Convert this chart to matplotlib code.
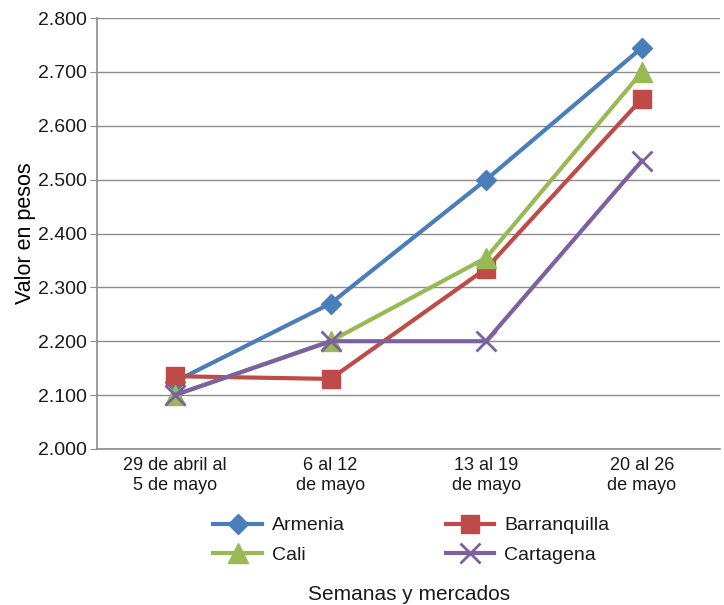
import matplotlib.pyplot as plt
from matplotlib.ticker import FuncFormatter

plt.rcParams['font.family'] = ['Liberation Sans', 'DejaVu Sans']
plt.rcParams['text.color'] = "#1a1a1a"
plt.rcParams['xtick.labelcolor'] = "#1a1a1a"
plt.rcParams['ytick.labelcolor'] = "#1a1a1a"

semanas = ["29 de abril al\n5 de mayo", "6 al 12\nde mayo",
           "13 al 19\nde mayo", "20 al 26\nde mayo"]
armenia = [2125, 2270, 2500, 2745]
barranquilla = [2135, 2130, 2335, 2650]
cali = [2100, 2200, 2355, 2700]
cartagena = [2100, 2200, 2200, 2535]

fig = plt.figure(figsize=(7.24, 6.05), dpi=100)
ax = fig.add_axes([0.134, 0.258, 0.86, 0.712])

x = range(len(semanas))
l1, = ax.plot(x, armenia, color="#4A7EBB", lw=3, marker="D", ms=10, label="Armenia", zorder=3)
l2, = ax.plot(x, barranquilla, color="#BE4B48", lw=3, marker="s", ms=13, label="Barranquilla", zorder=3)
l3, = ax.plot(x, cali, color="#98B954", lw=3, marker="^", ms=14, label="Cali", zorder=3)
l4, = ax.plot(x, cartagena, color="#7D60A0", lw=3, marker="x", ms=14, mew=2, label="Cartagena", zorder=4)

ax.set_xlim(-0.5, 3.5)
ax.set_ylim(2000, 2800)
ax.set_yticks(range(2000, 2801, 100))
ax.yaxis.set_major_formatter(FuncFormatter(lambda v, p: f"{v:,.0f}".replace(",", ".")))
ax.set_xticks(list(x))
ax.set_xticklabels(semanas)
ax.grid(axis="y", color="#8c8c8c", lw=1)
ax.set_axisbelow(True)
for s in ["top", "right"]:
    ax.spines[s].set_visible(False)
for s in ["left", "bottom"]:
    ax.spines[s].set_color("#8c8c8c")
    ax.spines[s].set_linewidth(1.2)
ax.tick_params(axis="y", labelsize=14, length=5, color="#8c8c8c", pad=2)
ax.tick_params(axis="x", labelsize=13, length=0, pad=6)
ax.set_ylabel("Valor en pesos", fontsize=15.5, labelpad=2)

fig.legend([l1, l3, l2, l4], ["Armenia", "Cali", "Barranquilla", "Cartagena"],
           loc="center", bbox_to_anchor=(0.568, 0.107), ncol=2, frameon=False,
           fontsize=14, columnspacing=5.2, handlelength=2.5, handletextpad=0.5,
           labelspacing=0.6)
fig.text(0.565, 0.008, "Semanas y mercados", ha="center", fontsize=15)

plt.savefig("out.png", dpi=100)
